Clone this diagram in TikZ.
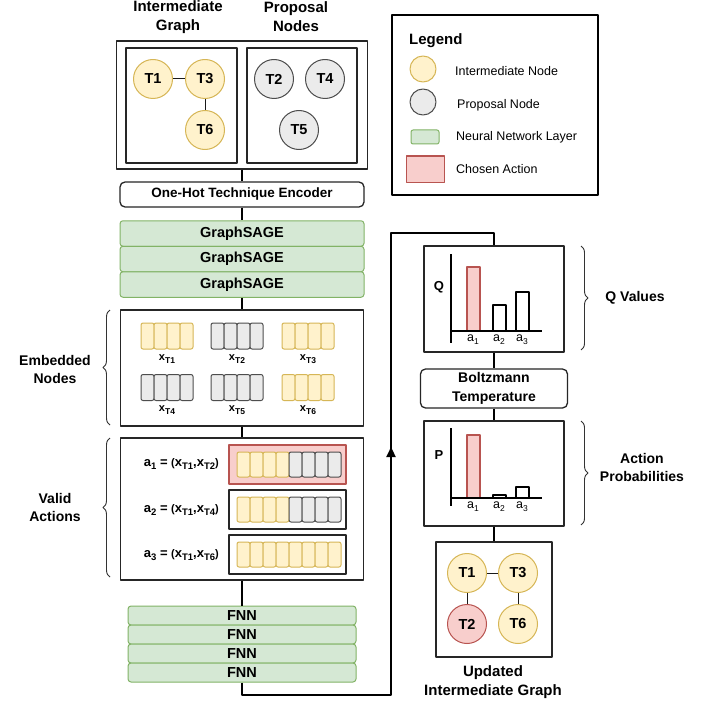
\documentclass[tikz,border=0pt]{standalone}
\usepackage{fontspec}
\setmainfont{Liberation Sans}
\usetikzlibrary{decorations.pathreplacing,arrows.meta,calc}

\definecolor{yfill}{HTML}{FFF2CC}
\definecolor{ydraw}{HTML}{D6B656}
\definecolor{gfill}{HTML}{EBEBEB}
\definecolor{gdraw}{HTML}{4D4D4D}
\definecolor{nfill}{HTML}{D5E8D4}
\definecolor{ndraw}{HTML}{82B366}
\definecolor{rfill}{HTML}{F8CECC}
\definecolor{rdraw}{HTML}{B85450}

\newcommand\fsz[2]{\fontsize{#1}{#2}\selectfont}
\newcommand\lowsub[1]{\raisebox{-0.45ex}{\fsz{8.5}{9}#1}}
\newcommand\actsub[1]{\raisebox{-0.45ex}{\fsz{9.5}{10}#1}}
% rows of embedding cells: name, left x, centre y, count, height
\newcommand\ycells[5]{\foreach \i in {1,...,#4}{\node[ycell, minimum height=#5] (#1-\i) at ({#2+13*\i-6.5},#3) {};}}
\newcommand\gcells[5]{\foreach \i in {1,...,#4}{\node[gcell, minimum height=#5] (#1-\i) at ({#2+13*\i-6.5},#3) {};}}

\begin{document}
\begin{tikzpicture}[x=1pt,y=-1pt,line join=round,
  flow/.style={line width=2.3pt, black},
  plainbox/.style={draw=black!85, line width=1.3pt, fill=white, inner sep=0pt},
  roundbox/.style={plainbox, rounded corners=5pt},
  layer/.style={draw=ndraw, fill=nfill, line width=1pt, rounded corners=3pt, inner sep=0pt, font=\fsz{14.5}{16}\bfseries},
  tnode/.style={circle, line width=1pt, minimum size=39pt, inner sep=0pt, font=\fsz{14.5}{16}\bfseries},
  ynode/.style={tnode, draw=ydraw, fill=yfill},
  gnode/.style={tnode, draw=gdraw, fill=gfill},
  rnode/.style={tnode, draw=rdraw, fill=rfill},
  gedge/.style={line width=1pt, black!90},
  ycell/.style={draw=ydraw, fill=yfill, line width=1pt, rounded corners=2pt, minimum width=13pt, inner sep=0pt},
  gcell/.style={draw=gdraw, fill=gfill, line width=1pt, rounded corners=2pt, minimum width=13pt, inner sep=0pt},
  lbl/.style={font=\fsz{14}{18}\bfseries, align=center, inner sep=0pt},
  legtext/.style={font=\fsz{12.5}{15}, anchor=west, inner sep=0pt},
  veclbl/.style={font=\fsz{11}{13}\bfseries, inner sep=0pt},
  actlbl/.style={font=\fsz{13}{15}\bfseries, inner sep=0pt, anchor=east},
  axlbl/.style={font=\fsz{12.5}{15}, inner sep=0pt},
  brc/.style={decorate, decoration={brace, amplitude=7pt}, line width=0.9pt, black!80},
  bar/.style={line width=1.1pt}
]
\useasboundingbox (0,0) rectangle (712,706);
\fill[white] (0,0) rectangle (712,706);

% ---------- input graph ----------
\node[lbl, font=\fsz{15}{19}\bfseries] (tIG) at (178,17) {Intermediate\\Graph};
\node[lbl, font=\fsz{15}{19}\bfseries] (tPN) at (296,17) {Proposal\\Nodes};
\node[plainbox, minimum width=251pt, minimum height=128pt] (top) at (242,105) {};
\node[plainbox, minimum width=111pt, minimum height=115pt] (igbox) at (181.5,105.5) {};
\node[plainbox, minimum width=110pt, minimum height=115pt] (pnbox) at (302,105.5) {};
\node[ynode] (T1) at (153,79) {T1};
\node[ynode] (T3) at (205,79) {T3};
\node[ynode] (T6) at (205,130) {T6};
\draw[gedge] (T1) -- (T3);
\draw[gedge] (T3) -- (T6);
\node[gnode] (T2) at (274,79) {T2};
\node[gnode] (T4) at (325,79) {T4};
\node[gnode] (T5) at (299,130) {T5};

% ---------- encoder and GNN ----------
\node[roundbox, minimum width=244pt, minimum height=25pt, font=\fsz{13.5}{16}\bfseries] (enc) at (242,194.5) {One-Hot Technique Encoder};
\node[layer, minimum width=244pt, minimum height=25.5pt] (gs1) at (242,233.5) {GraphSAGE};
\node[layer, minimum width=244pt, minimum height=25.5pt] (gs2) at (242,259) {GraphSAGE};
\node[layer, minimum width=244pt, minimum height=25.5pt] (gs3) at (242,284.5) {GraphSAGE};
\draw[flow] (top.south) -- (enc.north);
\draw[flow] (enc.south) -- (gs1.north);

% ---------- embedded nodes ----------
\node[plainbox, minimum width=243pt, minimum height=116pt] (emb) at (242,368) {};
\draw[flow] (gs3.south) -- (emb.north);
\ycells{e1}{141}{336}{4}{26pt}
\gcells{e2}{211}{336}{4}{26pt}
\ycells{e3}{282}{336}{4}{26pt}
\gcells{e4}{141}{387.5}{4}{26pt}
\gcells{e5}{211}{387.5}{4}{26pt}
\ycells{e6}{282}{387.5}{4}{26pt}
\node[veclbl] (x1) at (167,359) {x\lowsub{T1}};
\node[veclbl] (x2) at (237,359) {x\lowsub{T2}};
\node[veclbl] (x3) at (308,359) {x\lowsub{T3}};
\node[veclbl] (x4) at (167,410) {x\lowsub{T4}};
\node[veclbl] (x5) at (237,410) {x\lowsub{T5}};
\node[veclbl] (x6) at (308,410) {x\lowsub{T6}};
\draw[brc] (110,425) -- (110,310);
\node[lbl] (embl) at (55,369) {Embedded\\Nodes};

% ---------- valid actions ----------
\node[plainbox, minimum width=243pt, minimum height=142pt] (val) at (242,509) {};
\draw[flow] (emb.south) -- (val.north);
\node[draw=rdraw, fill=rfill, line width=1.1pt, minimum width=117pt, minimum height=39pt, inner sep=0pt] (act1) at (287.5,464.5) {};
\node[plainbox, line width=1.1pt, minimum width=117pt, minimum height=39pt] (act2) at (287.5,509.5) {};
\node[plainbox, line width=1.1pt, minimum width=117pt, minimum height=39pt] (act3) at (287.5,554.5) {};
\ycells{a1y}{237}{464.5}{4}{25pt}
\gcells{a1g}{289}{464.5}{4}{25pt}
\ycells{a2y}{237}{509.5}{4}{25pt}
\gcells{a2g}{289}{509.5}{4}{25pt}
\ycells{a3y}{237}{554.5}{8}{25pt}
\node[actlbl] (l1) at (219,464) {a\actsub{1} = {\fsz{11}{12}(}x\actsub{T1},x\actsub{T2}{\fsz{11}{12})}};
\node[actlbl] (l2) at (219,510) {a\actsub{2} = {\fsz{11}{12}(}x\actsub{T1},x\actsub{T4}{\fsz{11}{12})}};
\node[actlbl] (l3) at (219,555) {a\actsub{3} = {\fsz{11}{12}(}x\actsub{T1},x\actsub{T6}{\fsz{11}{12})}};
\draw[brc] (110,577) -- (110,438);
\node[lbl] (vall) at (55,507.5) {Valid\\Actions};

% ---------- FNN head ----------
\node[layer, minimum width=228pt, minimum height=19pt] (f1) at (242,615.5) {FNN};
\node[layer, minimum width=228pt, minimum height=19pt] (f2) at (242,634.5) {FNN};
\node[layer, minimum width=228pt, minimum height=19pt] (f3) at (242,653.5) {FNN};
\node[layer, minimum width=228pt, minimum height=19pt] (f4) at (242,672.5) {FNN};
\draw[flow] (val.south) -- (f1.north);

% ---------- Q values ----------
\node[plainbox, minimum width=140pt, minimum height=106pt] (qbox) at (494,299) {};
\coordinate (lb) at (391,695);
\coordinate (lt) at (391,233);
\coordinate (arr) at (391,447);
\draw[flow] (f4.south) |- (lb) -- (lt) -| (qbox.north);
\draw[flow, -{Triangle[length=10pt,width=9pt]}] (lb) -- (arr);
\filldraw[bar, draw=rdraw, fill=rfill] (467,267) rectangle (480,331);
\draw[bar] (493,305) rectangle (506,331);
\draw[bar] (516,292) rectangle (529,331);
\draw[line width=2.2pt] (451,254) -- (451,343);
\draw[line width=2.2pt] (451,331) -- (542,331);
\node[axlbl] (qa1) at (473,340) {a\lowsub{1}};
\node[axlbl] (qa2) at (499,340) {a\lowsub{2}};
\node[axlbl] (qa3) at (522,340) {a\lowsub{3}};
\node[lbl, font=\fsz{13}{15}\bfseries] (qy) at (439,287) {Q};
\draw[brc] (581,246) -- (581,350);
\node[lbl] (qvl) at (635,298) {Q Values};

% ---------- Boltzmann ----------
\node[roundbox, minimum width=147pt, minimum height=39pt, align=center, font=\fsz{14}{19}\bfseries] (boltz) at (494,388.5) {Boltzmann\\Temperature};
\draw[flow] (qbox.south) -- (boltz.north);

% ---------- action probabilities ----------
\node[plainbox, minimum width=140pt, minimum height=105pt] (pbox) at (494,473.5) {};
\draw[flow] (boltz.south) -- (pbox.north);
\filldraw[bar, draw=rdraw, fill=rfill] (467,435) rectangle (480,498);
\draw[bar] (493,495) rectangle (506,498);
\draw[bar] (516,487) rectangle (529,498);
\draw[line width=2.2pt] (451,428) -- (451,506);
\draw[line width=2.2pt] (451,498) -- (542,498);
\node[axlbl] (pa1) at (473,507) {a\lowsub{1}};
\node[axlbl] (pa2) at (499,507) {a\lowsub{2}};
\node[axlbl] (pa3) at (522,507) {a\lowsub{3}};
\node[lbl, font=\fsz{13}{15}\bfseries] (py) at (439,455) {P};
\draw[brc] (581,421) -- (581,525);
\node[lbl] (apl) at (642,467.5) {Action\\Probabilities};

% ---------- updated graph ----------
\node[plainbox, minimum width=116pt, minimum height=115pt] (upd) at (494,599.5) {};
\draw[flow] (pbox.south) -- (upd.north);
\node[ynode] (U1) at (467,573) {T1};
\node[ynode] (U3) at (518,573) {T3};
\node[rnode] (U2) at (467,624) {T2};
\node[ynode] (U6) at (518,624) {T6};
\draw[gedge] (U1) -- (U3);
\draw[gedge] (U1) -- (U2);
\draw[gedge] (U3) -- (U6);
\node[lbl, font=\fsz{15}{19}\bfseries] (updl) at (493,682.5) {Updated\\Intermediate Graph};

% ---------- legend ----------
\node[draw=black, line width=2.5pt, minimum width=206pt, minimum height=180pt, inner sep=0pt] (leg) at (495,105) {};
\node[font=\fsz{15}{18}\bfseries, anchor=west, inner sep=0pt] (legt) at (409,41) {Legend};
\node[circle, draw=ydraw, fill=yfill, line width=1pt, minimum size=26pt, inner sep=0pt] (lgy) at (423,69) {};
\node[legtext] (lgyt) at (455,71) {Intermediate Node};
\node[circle, draw=gdraw, fill=gfill, line width=1pt, minimum size=26pt, inner sep=0pt] (lgg) at (423,102) {};
\node[legtext] (lggt) at (457,105) {Proposal Node};
\node[draw=ndraw, fill=nfill, line width=1pt, rounded corners=2pt, minimum width=28pt, minimum height=14pt, inner sep=0pt] (lgn) at (425,137) {};
\node[legtext] (lgnt) at (456,137) {Neural Network Layer};
\node[draw=rdraw, fill=rfill, line width=1pt, minimum width=38pt, minimum height=26pt, inner sep=0pt] (lgr) at (425,169) {};
\node[legtext] (lgrt) at (456,169) {Chosen Action};
\end{tikzpicture}
\end{document}
